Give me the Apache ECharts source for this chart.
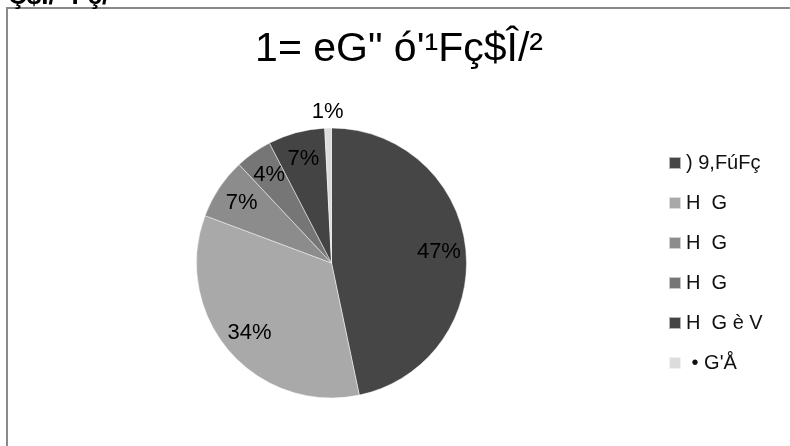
<!DOCTYPE html>
<html>
<head>
<meta charset="utf-8">
<script src="https://cdn.jsdelivr.net/npm/echarts@6/dist/echarts.min.js"></script>
<style>
  html, body { margin: 0; padding: 0; background: #fff; }
  #chart { width: 790px; height: 446px; }
</style>
</head>
<body>
<div id="chart"></div>
<script>
const titleText = '1= eG" ó\'¹Fç$Î/²';
const headerText = 'Ç$Î/ ¹Fç/¹';
const categories = [') 9,FúFç', 'H  G', 'H  G ', 'H  G  ', 'H  G è V', ' • G\'Å'];
const values = [46.7, 34.0, 7.3, 4.4, 6.8, 0.8];
const colors = ['#464646', '#a9a9a9', '#8c8c8c', '#767676', '#444444', '#dcdcdc'];
const pctLabels = ['47%', '34%', '7%', '4%', '7%', '1%'];

const FONT = "'Liberation Sans', Arial, sans-serif";
const center = [331.5, 263];
const R = 135;

const mainData = categories.map((n, i) => ({ name: n, value: values[i], itemStyle: { color: colors[i] } }));
const insideData = categories.map((n, i) => ({
  name: n, value: values[i],
  label: { show: i !== 5, formatter: pctLabels[i] }
}));
const outsideData = categories.map((n, i) => ({
  name: n, value: values[i],
  label: { show: i === 5, formatter: pctLabels[i] }
}));

const chart = echarts.init(document.getElementById('chart'), null, { renderer: 'canvas' });
chart.setOption({
  backgroundColor: '#ffffff',
  animation: false,
  title: [
    { text: titleText, left: 399, top: 29, textAlign: 'center', padding: 0,
      textStyle: { fontFamily: FONT, fontSize: 41, fontWeight: 'normal', color: '#000' } },
    { text: headerText, left: 8, top: -16, padding: 0,
      textStyle: { fontFamily: FONT, fontSize: 26, fontWeight: 'bold', color: '#000' } }
  ],
  legend: {
    orient: 'vertical', left: 668, top: 153, padding: 0,
    itemWidth: 12, itemHeight: 12, itemGap: 20, icon: 'rect',
    data: categories,
    textStyle: { fontFamily: FONT, fontSize: 20, lineHeight: 20, color: '#111' },
    selectedMode: false
  },
  graphic: [
    { type: 'rect', shape: { x: 7, y: 8, width: 820, height: 460 },
      style: { fill: 'none', stroke: '#8a8a8a', lineWidth: 2 }, silent: true, z: 0 }
  ],
  series: [
    {
      type: 'pie', name: 'main', center: center, radius: [0, R],
      startAngle: 90, clockwise: true, avoidLabelOverlap: false, silent: true,
      label: { show: false }, labelLine: { show: false },
      itemStyle: { borderColor: 'rgba(255,255,255,0.6)', borderWidth: 0.8 },
      data: mainData, z: 2
    },
    {
      type: 'pie', name: 'labelsIn', center: center, radius: [75, R],
      startAngle: 90, clockwise: true, avoidLabelOverlap: false, silent: true,
      itemStyle: { color: 'rgba(0,0,0,0)', borderWidth: 0 },
      label: { position: 'inside', fontFamily: FONT, fontSize: 22, color: '#000' },
      labelLine: { show: false },
      data: insideData, z: 3
    },
    {
      type: 'pie', name: 'labelsOut', center: center, radius: [137, 159],
      startAngle: 90, clockwise: true, avoidLabelOverlap: false, silent: true,
      itemStyle: { color: 'rgba(0,0,0,0)', borderWidth: 0 },
      label: { position: 'inside', fontFamily: FONT, fontSize: 22, color: '#000' },
      labelLine: { show: false },
      data: outsideData, z: 3
    }
  ]
});
</script>
</body>
</html>
